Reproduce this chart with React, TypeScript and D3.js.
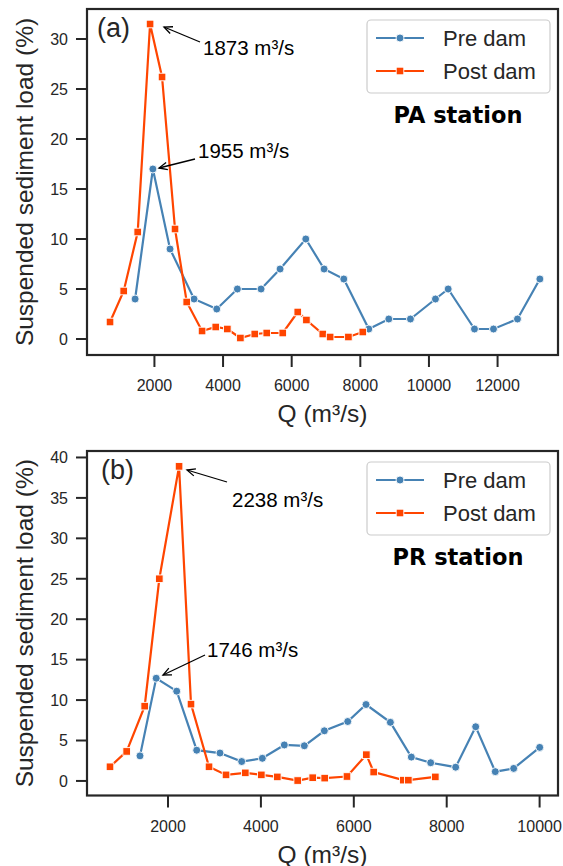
import React from "react";
import * as d3 from "d3";

// ---------- data ----------
const paPreQ = [1437, 1955, 2455, 3155, 3816, 4418, 5108, 5662, 6411, 6945, 7519, 8247, 8830, 9461, 10190, 10560, 11327, 11881, 12580, 13233];
const paPreV = [4, 17, 9, 4, 3, 5, 5, 7, 10, 7, 6, 1, 2, 2, 4, 5, 1, 1, 2, 6];
const paPostQ = [706, 1105, 1513, 1873, 2222, 2600, 2941, 3388, 3787, 4125, 4505, 4924, 5273, 5740, 6177, 6429, 6906, 7120, 7653, 8072];
const paPostV = [1.7, 4.8, 10.7, 31.5, 26.2, 11.0, 3.7, 0.8, 1.2, 1.0, 0.1, 0.5, 0.6, 0.6, 2.7, 1.9, 0.5, 0.2, 0.2, 0.7];

const prPreQ = [1397, 1746, 2187, 2618, 3119, 3586, 4031, 4504, 4935, 5366, 5869, 6263, 6787, 7239, 7655, 8193, 8624, 9046, 9442, 10002];
const prPreV = [3.1, 12.7, 11.1, 3.8, 3.45, 2.4, 2.8, 4.45, 4.35, 6.2, 7.35, 9.45, 7.25, 2.95, 2.25, 1.7, 6.7, 1.15, 1.55, 4.15];
const prPostQ = [751, 1110, 1498, 1813, 2238, 2495, 2883, 3249, 3664, 4009, 4353, 4792, 5115, 5373, 5853, 6270, 6428, 7066, 7174, 7755];
const prPostV = [1.75, 3.65, 9.25, 25.0, 38.9, 9.5, 1.75, 0.75, 1.0, 0.75, 0.5, 0.05, 0.4, 0.35, 0.55, 3.25, 1.1, 0.1, 0.1, 0.5];

const paXTicks = [2000, 4000, 6000, 8000, 10000, 12000];
const prXTicks = [2000, 4000, 6000, 8000, 10000];
const paYTicks = [0, 5, 10, 15, 20, 25, 30];
const prYTicks = [0, 5, 10, 15, 20, 25, 30, 35, 40];

const seriesNames = ["Pre dam", "Post dam"];
const stations = ["PA station", "PR station"];
const panelTags = ["(a)", "(b)"];
const paAnnot = [
  { q: 1873, v: 31.5, label: "1873 m³/s" },
  { q: 1955, v: 17, label: "1955 m³/s" },
];
const prAnnot = [
  { q: 2238, v: 38.9, label: "2238 m³/s" },
  { q: 1746, v: 12.7, label: "1746 m³/s" },
];

// ---------- styles ----------
const BLUE = "#4682b4";
const ORANGE = "#ff4500";
const TXT = "#262626";
const FONT = "'Liberation Sans', Arial, sans-serif";

type Annot = { q: number; v: number; label: string };
type PanelProps = {
  top: number;
  bottom: number;
  xDomain: [number, number];
  yDomain: [number, number];
  xTicks: number[];
  yTicks: number[];
  preQ: number[];
  preV: number[];
  postQ: number[];
  postV: number[];
  station: string;
  tag: string;
  tagX: number;
  annots: Annot[];
  annotPos: { tx: number; ty: number; ax0: number; ay0: number; ax1: number; ay1: number }[];
};

const LEFT = 87;
const RIGHT = 558;

function Arrow({ x0, y0, x1, y1 }: { x0: number; y0: number; x1: number; y1: number }) {
  const ang = Math.atan2(y1 - y0, x1 - x0);
  const L = 9;
  const w = 0.42;
  const p1 = [x1 - L * Math.cos(ang - w), y1 - L * Math.sin(ang - w)];
  const p2 = [x1 - L * Math.cos(ang + w), y1 - L * Math.sin(ang + w)];
  return (
    <g stroke="#000" strokeWidth={1.3} fill="none">
      <line x1={x0} y1={y0} x2={x1} y2={y1} />
      <path d={`M${p1[0]},${p1[1]} L${x1},${y1} L${p2[0]},${p2[1]}`} />
    </g>
  );
}

function Panel(p: PanelProps) {
  const x = d3.scaleLinear().domain(p.xDomain).range([LEFT, RIGHT]);
  const y = d3.scaleLinear().domain(p.yDomain).range([p.bottom, p.top]);
  const line = d3
    .line<[number, number]>()
    .x((d) => x(d[0]))
    .y((d) => y(d[1]));
  const pre: [number, number][] = p.preQ.map((q, i) => [q, p.preV[i]]);
  const post: [number, number][] = p.postQ.map((q, i) => [q, p.postV[i]]);
  const cx = (LEFT + RIGHT) / 2;
  const cy = (p.top + p.bottom) / 2;
  const lgTop = p.top + 11;
  return (
    <g fontFamily={FONT}>
      {/* y ticks */}
      {p.yTicks.map((t) => (
        <g key={"y" + t}>
          <line x1={LEFT - 11} x2={LEFT} y1={y(t)} y2={y(t)} stroke={TXT} strokeWidth={2} />
          <text x={LEFT - 19} y={y(t)} dy="0.36em" textAnchor="end" fontSize={16} fill={TXT}>
            {t}
          </text>
        </g>
      ))}
      {/* x ticks */}
      {p.xTicks.map((t) => (
        <g key={"x" + t}>
          <line x1={x(t)} x2={x(t)} y1={p.bottom} y2={p.bottom + 12} stroke={TXT} strokeWidth={2} />
          <text x={x(t)} y={p.bottom + 36} textAnchor="middle" fontSize={16} fill={TXT}>
            {t}
          </text>
        </g>
      ))}
      {/* axis labels */}
      <text
        transform={`translate(33,${cy}) rotate(-90)`}
        textAnchor="middle"
        fontSize={24.5}
        fill={TXT}
      >
        Suspended sediment load (%)
      </text>
      <text x={cx} y={p.bottom + 67} textAnchor="middle" fontSize={24.5} fill={TXT}>
        Q (m³/s)
      </text>

      {/* lines */}
      <path d={line(pre) || ""} fill="none" stroke={BLUE} strokeWidth={2.2} />
      <path d={line(post) || ""} fill="none" stroke={ORANGE} strokeWidth={2.2} />
      {pre.map((d, i) => (
        <circle key={"c" + i} cx={x(d[0])} cy={y(d[1])} r={4} fill={BLUE} stroke="#fff" strokeWidth={0.9} />
      ))}
      {post.map((d, i) => (
        <rect
          key={"s" + i}
          x={x(d[0]) - 3.8}
          y={y(d[1]) - 3.8}
          width={7.6}
          height={7.6}
          fill={ORANGE}
          stroke="#fff"
          strokeWidth={0.9}
        />
      ))}

      {/* frame */}
      <rect x={LEFT} y={p.top} width={RIGHT - LEFT} height={p.bottom - p.top} fill="none" stroke={TXT} strokeWidth={2.2} />

      {/* tag */}
      <text x={p.tagX} y={p.top + 28} fontSize={27} fill={TXT}>
        {p.tag}
      </text>

      {/* annotations */}
      {p.annots.map((a, i) => {
        const ap = p.annotPos[i];
        return (
          <g key={"a" + i}>
            <Arrow x0={ap.ax0} y0={ap.ay0} x1={ap.ax1} y1={ap.ay1} />
            <text x={ap.tx} y={ap.ty} fontSize={20.5} fill="#000">
              {a.label}
            </text>
          </g>
        );
      })}

      {/* legend */}
      <rect x={367} y={lgTop} width={183} height={73} rx={4} fill="#fff" fillOpacity={0.8} stroke="#cccccc" strokeWidth={1.2} />
      {seriesNames.map((n, i) => {
        const ly = lgTop + 18 + i * 33;
        const col = i === 0 ? BLUE : ORANGE;
        return (
          <g key={n}>
            <line x1={376} x2={424} y1={ly} y2={ly} stroke={col} strokeWidth={2.2} />
            {i === 0 ? (
              <circle cx={400} cy={ly} r={4} fill={col} stroke="#fff" strokeWidth={0.9} />
            ) : (
              <rect x={396.2} y={ly - 3.8} width={7.6} height={7.6} fill={col} stroke="#fff" strokeWidth={0.9} />
            )}
            <text x={443} y={ly} dy="0.36em" fontSize={22} fill={TXT}>
              {n}
            </text>
          </g>
        );
      })}
      <text
        x={458}
        y={p.top + 114}
        textAnchor="middle"
        fontSize={22.5}
        fontWeight="bold"
        fontFamily="'DejaVu Sans', Verdana, sans-serif"
        fill="#000"
      >
        {p.station}
      </text>
    </g>
  );
}

export default function App() {
  return (
    <svg
      width={563}
      height={866}
      style={{ position: "absolute", left: 0, top: 0, background: "#fff" }}
    >
      <rect width={563} height={866} fill="#fff" />
      <Panel
        top={9}
        bottom={355}
        xDomain={[35, 13761]}
        yDomain={[-1.6, 33]}
        xTicks={paXTicks}
        yTicks={paYTicks}
        preQ={paPreQ}
        preV={paPreV}
        postQ={paPostQ}
        postV={paPostV}
        station={stations[0]}
        tag={panelTags[0]}
        tagX={97}
        annots={paAnnot}
        annotPos={[
          { tx: 203, ty: 55, ax0: 200, ay0: 42, ax1: 164, ay1: 27 },
          { tx: 198, ty: 158, ax0: 195, ay0: 159, ax1: 159, ay1: 168 },
        ]}
      />
      <Panel
        top={451}
        bottom={795.5}
        xDomain={[256, 10396]}
        yDomain={[-1.8, 40.8]}
        xTicks={prXTicks}
        yTicks={prYTicks}
        preQ={prPreQ}
        preV={prPreV}
        postQ={prPostQ}
        postV={prPostV}
        station={stations[1]}
        tag={panelTags[1]}
        tagX={101}
        annots={prAnnot}
        annotPos={[
          { tx: 232, ty: 507, ax0: 227, ay0: 482, ax1: 187, ay1: 470 },
          { tx: 207, ty: 657, ax0: 205, ay0: 655, ax1: 163, ay1: 675 },
        ]}
      />
    </svg>
  );
}
